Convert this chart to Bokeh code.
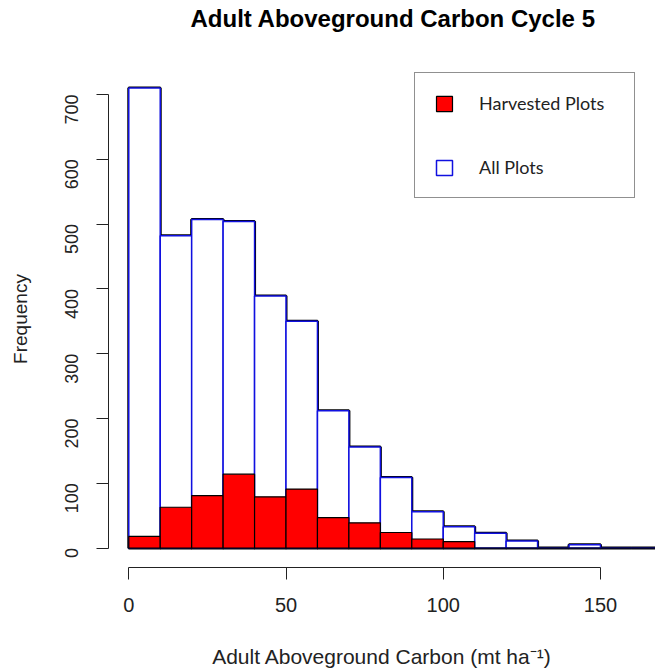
import math
from bokeh.plotting import figure
from bokeh.models import Range1d, FixedTicker, Legend, LegendItem, ColumnDataSource, Title
from bokeh.embed import file_html
from bokeh.resources import INLINE

# ---- data ----
bin_left = [0, 10, 20, 30, 40, 50, 60, 70, 80, 90, 100, 110, 120, 130, 140, 150, 160]
bin_right = [10, 20, 30, 40, 50, 60, 70, 80, 90, 100, 110, 120, 130, 140, 150, 160, 170]
all_plots = [710, 482, 507, 504, 389, 350, 212, 156, 109, 56, 33, 23, 11, 0, 5, 0, 0]
harvested = [18, 63, 81, 114, 79, 91, 47, 39, 24, 14, 10, 0, 0, 0, 0, 0, 0]
x_ticks = [0, 50, 100, 150]
y_ticks = [0, 100, 200, 300, 400, 500, 600, 700]
title_text = "Adult Aboveground Carbon Cycle 5"

src_all = ColumnDataSource(dict(left=bin_left, right=bin_right, top=all_plots, bottom=[0] * len(all_plots)))
src_h = ColumnDataSource(dict(left=bin_left, right=bin_right, top=harvested, bottom=[0] * len(harvested)))

p = figure(width=655, height=671, output_backend="svg", toolbar_location=None, title=None,
           x_range=Range1d(-6.45, 167.5), y_range=Range1d(-30, 737),
           min_border_left=108, min_border_right=0, min_border_top=70, min_border_bottom=104)

p.outline_line_color = None
p.xgrid.visible = False
p.ygrid.visible = False
p.background_fill_color = "white"
p.border_fill_color = "white"

# spacer panel next to the frame, then the real title above it
spacer = Title(text=" ", text_font_size="1px", standoff=36)
p.add_layout(spacer, "above")
main_title = Title(text=title_text, text_font="Liberation Sans", text_font_style="bold",
                   text_font_size="24px", text_color="black", align="left", offset=82,
                   vertical_align="bottom", standoff=0)
p.add_layout(main_title, "above")

# All plots: black outline underneath, blue outline on top
p.quad(left="left", right="right", top="top", bottom="bottom", source=src_all,
       fill_color="white", line_color="black", line_width=3)
r_all = p.quad(left="left", right="right", top="top", bottom="bottom", source=src_all,
               fill_color="white", line_color="#1010e0", line_width=1.5)
r_h = p.quad(left="left", right="right", top="top", bottom="bottom", source=src_h,
             fill_color="#ff0000", line_color="black", line_width=1.2)

# axes
xa = p.xaxis[0]
xa.ticker = FixedTicker(ticks=x_ticks)
xa.bounds = (0, 150)
xa.minor_tick_line_color = None
xa.major_tick_in = 0
xa.major_tick_out = 12
xa.axis_line_color = "#222222"
xa.major_tick_line_color = "#222222"
xa.major_label_text_font = "Liberation Sans"
xa.major_label_text_font_size = "20px"
xa.major_label_text_color = "#222222"
xa.major_label_standoff = 18
xa.axis_label = "Adult Aboveground Carbon (mt ha\u207b\u00b9)"
xa.axis_label_text_font = "Liberation Sans"
xa.axis_label_text_font_style = "normal"
xa.axis_label_text_font_size = "21px"
xa.axis_label_text_color = "#222222"
xa.axis_label_standoff = 30

ya = p.yaxis[0]
ya.ticker = FixedTicker(ticks=y_ticks)
ya.bounds = (0, 700)
ya.minor_tick_line_color = None
ya.major_tick_in = 0
ya.major_tick_out = 12
ya.axis_line_color = "#222222"
ya.major_tick_line_color = "#222222"
ya.major_label_orientation = math.pi / 2
ya.major_label_text_font = "Liberation Sans"
ya.major_label_text_font_size = "18px"
ya.major_label_text_color = "#222222"
ya.major_label_standoff = 25
ya.axis_label = "Frequency"
ya.axis_label_text_font = "Liberation Sans"
ya.axis_label_text_font_style = "normal"
ya.axis_label_text_font_size = "19px"
ya.axis_label_text_color = "#222222"
ya.axis_label_standoff = 25

legend = Legend(items=[LegendItem(label="Harvested Plots", renderers=[r_h]),
                       LegendItem(label="All Plots", renderers=[r_all])],
                location=(306, 369))
legend.padding = 19
legend.spacing = 42
legend.glyph_width = 20
legend.glyph_height = 19
legend.label_height = 22
legend.label_width = 136
legend.label_standoff = 25
legend.label_text_font = "Lato"
legend.label_text_font_size = "18px"
legend.label_text_color = "#222222"
legend.border_line_color = "#222222"
legend.border_line_width = 1.5
legend.background_fill_color = "white"
legend.background_fill_alpha = 1
legend.margin = 0
p.add_layout(legend)

open("out.html", "w").write(file_html(p, INLINE))
